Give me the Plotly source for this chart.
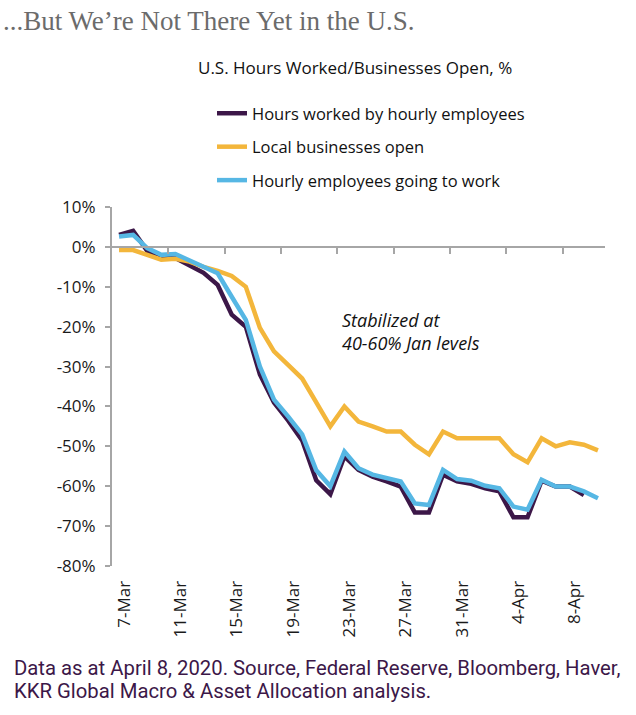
import plotly.graph_objects as go

dates = ["7-Mar", "8-Mar", "9-Mar", "10-Mar", "11-Mar", "12-Mar", "13-Mar", "14-Mar",
         "15-Mar", "16-Mar", "17-Mar", "18-Mar", "19-Mar", "20-Mar", "21-Mar", "22-Mar",
         "23-Mar", "24-Mar", "25-Mar", "26-Mar", "27-Mar", "28-Mar", "29-Mar", "30-Mar",
         "31-Mar", "1-Apr", "2-Apr", "3-Apr", "4-Apr", "5-Apr", "6-Apr", "7-Apr",
         "8-Apr", "9-Apr", "10-Apr"]

hours_worked = [3, 4, -1, -2.3, -2.8, -4.5, -6.5, -9.5, -17, -20, -32, -39, -43.5, -48.5,
                -58.5, -62, -52.5, -55.9, -57.6, -58.8, -60.1, -66.6, -66.6, -57.1, -58.8,
                -59.4, -60.5, -61.3, -67.8, -67.8, -58.6, -60.1, -60.1, -62.2, None]

businesses_open = [-0.8, -0.8, -2, -3.2, -3, -3.7, -5, -6, -7.3, -10, -20.3, -26.2, -29.6,
                   -33, -39, -45, -40, -43.8, -45, -46.3, -46.3, -49.6, -52, -46.3, -48,
                   -48, -48, -48, -52, -54, -48, -50, -49, -49.6, -51]

going_to_work = [2.6, 3, -0.3, -2, -1.8, -3.3, -5, -6.6, -12.5, -18.3, -30, -38.3, -42.5,
                 -47, -56, -60, -51.3, -55.5, -57.1, -58, -58.8, -64.3, -64.7, -55.9, -58.2,
                 -58.6, -59.9, -60.5, -65.1, -65.9, -58.4, -60.1, -60.1, -61.3, -63]

y_ticks = [10, 0, -10, -20, -30, -40, -50, -60, -70, -80]
y_tick_labels = [f"{v}%" for v in y_ticks]

label_dates = dates[::4]
tick_boundaries = [i - 0.5 for i in range(4, len(dates), 4)]

series = [
    ("Hours worked by hourly employees", hours_worked, "#3c1748"),
    ("Local businesses open", businesses_open, "#f3b63b"),
    ("Hourly employees going to work", going_to_work, "#56b7e4"),
]

fig = go.Figure()
for i, (name, vals, color) in enumerate(series):
    fig.add_trace(go.Scatter(
        x=dates, y=vals,
        mode="lines", name=name, legendgroup=f"g{i}",
        line=dict(color=color, width=4.5),
    ))

# helper trace to activate the zero-line tick axis
fig.add_trace(go.Scatter(x=[None], y=[None], xaxis="x2", showlegend=False, hoverinfo="skip"))

axis_grey = "#a6a6a6"
sans = "'Open Sans', 'Noto Sans', sans-serif"
tick_font = dict(family=sans, size=17, color="#1a1a1a")

PL, PT, PW, PH = 112, 207, 493, 359  # plot area in px

fig.update_layout(
    width=636, height=715,
    margin=dict(l=PL, r=636 - PL - PW, t=PT, b=715 - PT - PH, autoexpand=False),
    paper_bgcolor="white", plot_bgcolor="white",
    font=tick_font,
    showlegend=True,
    legend=dict(
        xref="container", yref="container",
        x=212 / 636, y=1 - 96 / 715, xanchor="left", yanchor="top",
        font=dict(family=sans, size=16.5, color="#111111"),
        traceorder="grouped", tracegroupgap=9,
        bgcolor="rgba(0,0,0,0)",
    ),
    xaxis=dict(
        type="category", categoryorder="array", categoryarray=dates,
        range=[-0.5, len(dates) - 0.5],
        tickmode="array", tickvals=label_dates, ticktext=label_dates,
        tickangle=-90, ticks="outside", ticklen=7, tickcolor="rgba(0,0,0,0)",
        ticklabelshift=5,
        showline=False, showgrid=False, zeroline=False,
        tickfont=tick_font,
    ),
    xaxis2=dict(
        overlaying="x", anchor="free", position=80 / 90, side="bottom",
        range=[-0.5, len(dates) - 0.5],
        tickmode="array", tickvals=tick_boundaries,
        showticklabels=False, ticks="outside", ticklen=6, tickwidth=2,
        tickcolor=axis_grey, showline=True, linecolor=axis_grey, linewidth=2,
        showgrid=False, zeroline=False,
    ),
    yaxis=dict(
        range=[-80, 10], tickmode="array", tickvals=y_ticks, ticktext=y_tick_labels,
        showline=True, linecolor=axis_grey, linewidth=2,
        ticks="outside", ticklen=5, tickwidth=2, tickcolor=axis_grey,
        ticklabelstandoff=6,
        showgrid=False, zeroline=False, tickfont=tick_font,
    ),
    annotations=[
        dict(xref="paper", yref="paper", x=(1 - PL) / PW, y=1 + (PT - 21) / PH,
             xanchor="left", yanchor="middle", showarrow=False,
             text="...But We\u2019re Not There Yet in the U.S.",
             font=dict(family="'Liberation Serif', 'DejaVu Serif', serif", size=27, color="#6b6b6b")),
        dict(xref="paper", yref="paper", x=(196 - PL) / PW, y=1 + (PT - 67) / PH,
             xanchor="left", yanchor="middle", showarrow=False,
             text="U.S. Hours Worked/Businesses Open, %",
             font=dict(family=sans, size=17, color="#111111")),
        dict(xref="paper", yref="paper", x=(340 - PL) / PW, y=1 - (331 - PT) / PH,
             xanchor="left", yanchor="middle", showarrow=False, align="left",
             text="<i>Stabilized at<br>40-60% Jan levels</i>",
             font=dict(family=sans, size=18, color="#111111")),
        dict(xref="paper", yref="paper", x=(12 - PL) / PW, y=-(668 - PT - PH) / PH,
             xanchor="left", yanchor="middle", showarrow=False, align="left",
             text="Data as at April 8, 2020. Source, Federal Reserve, Bloomberg, Haver,",
             font=dict(family="Roboto, sans-serif", size=20.3, color="#3c1748")),
        dict(xref="paper", yref="paper", x=(12 - PL) / PW, y=-(691 - PT - PH) / PH,
             xanchor="left", yanchor="middle", showarrow=False, align="left",
             text="KKR Global Macro &amp; Asset Allocation analysis.",
             font=dict(family="Roboto, sans-serif", size=20.3, color="#3c1748")),
    ],
)

fig.write_html("out.html", config={"displayModeBar": False},
               post_script="document.body.style.margin='0px';")
